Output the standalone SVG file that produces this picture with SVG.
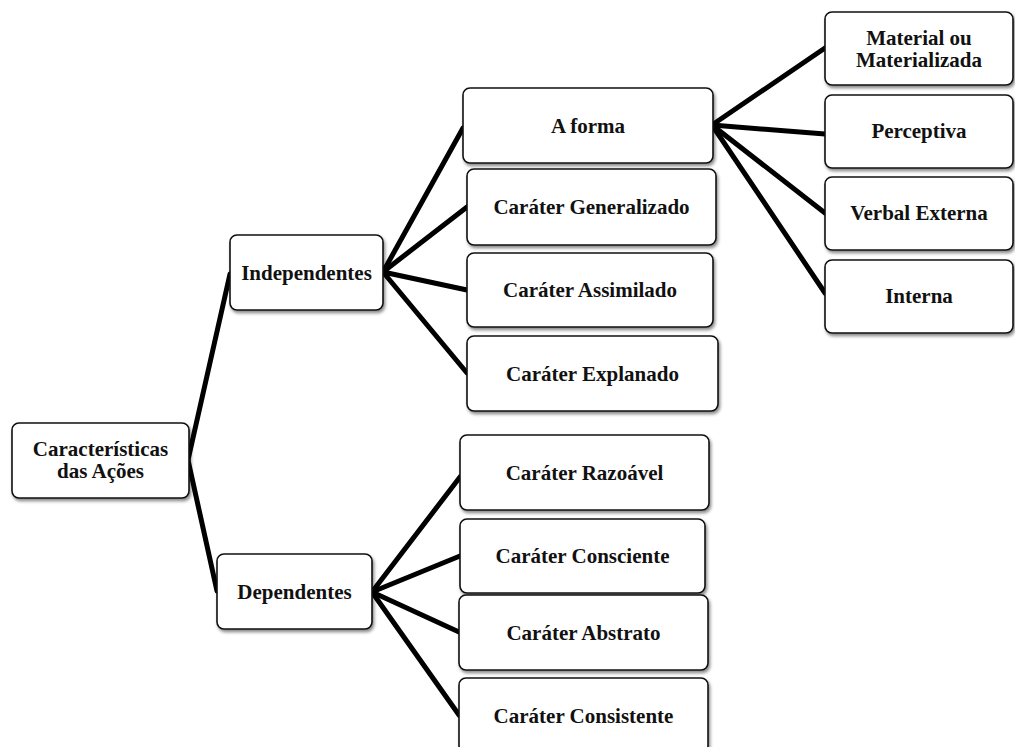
<svg xmlns="http://www.w3.org/2000/svg" width="1015" height="747" viewBox="0 0 1015 747">
  <defs>
    <filter id="shadow" x="-10%" y="-10%" width="130%" height="140%">
      <feDropShadow dx="1.5" dy="2.5" stdDeviation="1.5" flood-color="#000" flood-opacity="0.45"/>
    </filter>
  </defs>
  <style>
    .box { fill: #fff; stroke: #111; stroke-width: 1.6; filter: url(#shadow); }
    .lbl { font-family: "Liberation Serif", "Times New Roman", serif; font-weight: bold; font-size: 21px; fill: #111; text-anchor: middle; }
    .edge { stroke: #000; stroke-width: 5; fill: none; stroke-linecap: round; }
  </style>
  <rect width="1015" height="747" fill="#fff"/>

  <g id="connectors">
    <!-- root -->
    <line class="edge" x1="188" y1="460" x2="230" y2="274"/>
    <line class="edge" x1="188" y1="460" x2="217" y2="591"/>
    <!-- Independentes -->
    <line class="edge" x1="383" y1="272" x2="463" y2="128"/>
    <line class="edge" x1="383" y1="272" x2="467" y2="207"/>
    <line class="edge" x1="383" y1="272" x2="467" y2="290"/>
    <line class="edge" x1="383" y1="272" x2="467" y2="373"/>
    <!-- A forma -->
    <line class="edge" x1="712" y1="125" x2="825" y2="48"/>
    <line class="edge" x1="712" y1="125" x2="825" y2="134"/>
    <line class="edge" x1="712" y1="125" x2="825" y2="213"/>
    <line class="edge" x1="712" y1="125" x2="825" y2="293"/>
    <!-- Dependentes -->
    <line class="edge" x1="372" y1="592" x2="460" y2="477"/>
    <line class="edge" x1="372" y1="592" x2="460" y2="556"/>
    <line class="edge" x1="372" y1="592" x2="459" y2="632"/>
    <line class="edge" x1="372" y1="592" x2="459" y2="715"/>
  </g>

  <g id="node-root">
    <rect class="box" x="12" y="423" width="177" height="75" rx="7"/>
    <text class="lbl" x="100.5" y="456">Características</text>
    <text class="lbl" x="100.5" y="478">das Ações</text>
  </g>
  <g id="node-independentes">
    <rect class="box" x="230" y="235" width="153" height="75" rx="7"/>
    <text class="lbl" x="306.5" y="280">Independentes</text>
  </g>
  <g id="node-dependentes">
    <rect class="box" x="217" y="554" width="155" height="75" rx="7"/>
    <text class="lbl" x="294.5" y="599">Dependentes</text>
  </g>

  <g id="node-a-forma">
    <rect class="box" x="463" y="88" width="250" height="75" rx="7"/>
    <text class="lbl" x="588" y="133">A forma</text>
  </g>
  <g id="node-generalizado">
    <rect class="box" x="467" y="169" width="249" height="76" rx="7"/>
    <text class="lbl" x="591.5" y="214">Caráter Generalizado</text>
  </g>
  <g id="node-assimilado">
    <rect class="box" x="467" y="253" width="246" height="74" rx="7"/>
    <text class="lbl" x="590" y="297">Caráter Assimilado</text>
  </g>
  <g id="node-explanado">
    <rect class="box" x="467" y="336" width="251" height="75" rx="7"/>
    <text class="lbl" x="592.5" y="381">Caráter Explanado</text>
  </g>

  <g id="node-razoavel">
    <rect class="box" x="460" y="435" width="249" height="75" rx="7"/>
    <text class="lbl" x="584.5" y="480">Caráter Razoável</text>
  </g>
  <g id="node-consciente">
    <rect class="box" x="460" y="519" width="245" height="74" rx="7"/>
    <text class="lbl" x="582.5" y="563">Caráter Consciente</text>
  </g>
  <g id="node-abstrato">
    <rect class="box" x="459" y="595" width="249" height="75" rx="7"/>
    <text class="lbl" x="583.5" y="640">Caráter Abstrato</text>
  </g>
  <g id="node-consistente">
    <rect class="box" x="459" y="678" width="249" height="75" rx="7"/>
    <text class="lbl" x="583.5" y="723">Caráter Consistente</text>
  </g>

  <g id="node-material">
    <rect class="box" x="825" y="12" width="188" height="73" rx="7"/>
    <text class="lbl" x="919" y="45">Material ou</text>
    <text class="lbl" x="919" y="67">Materializada</text>
  </g>
  <g id="node-perceptiva">
    <rect class="box" x="825" y="95" width="188" height="73" rx="7"/>
    <text class="lbl" x="919" y="138">Perceptiva</text>
  </g>
  <g id="node-verbal-externa">
    <rect class="box" x="825" y="177" width="188" height="73" rx="7"/>
    <text class="lbl" x="919" y="220">Verbal Externa</text>
  </g>
  <g id="node-interna">
    <rect class="box" x="825" y="260" width="188" height="73" rx="7"/>
    <text class="lbl" x="919" y="303">Interna</text>
  </g>
</svg>
